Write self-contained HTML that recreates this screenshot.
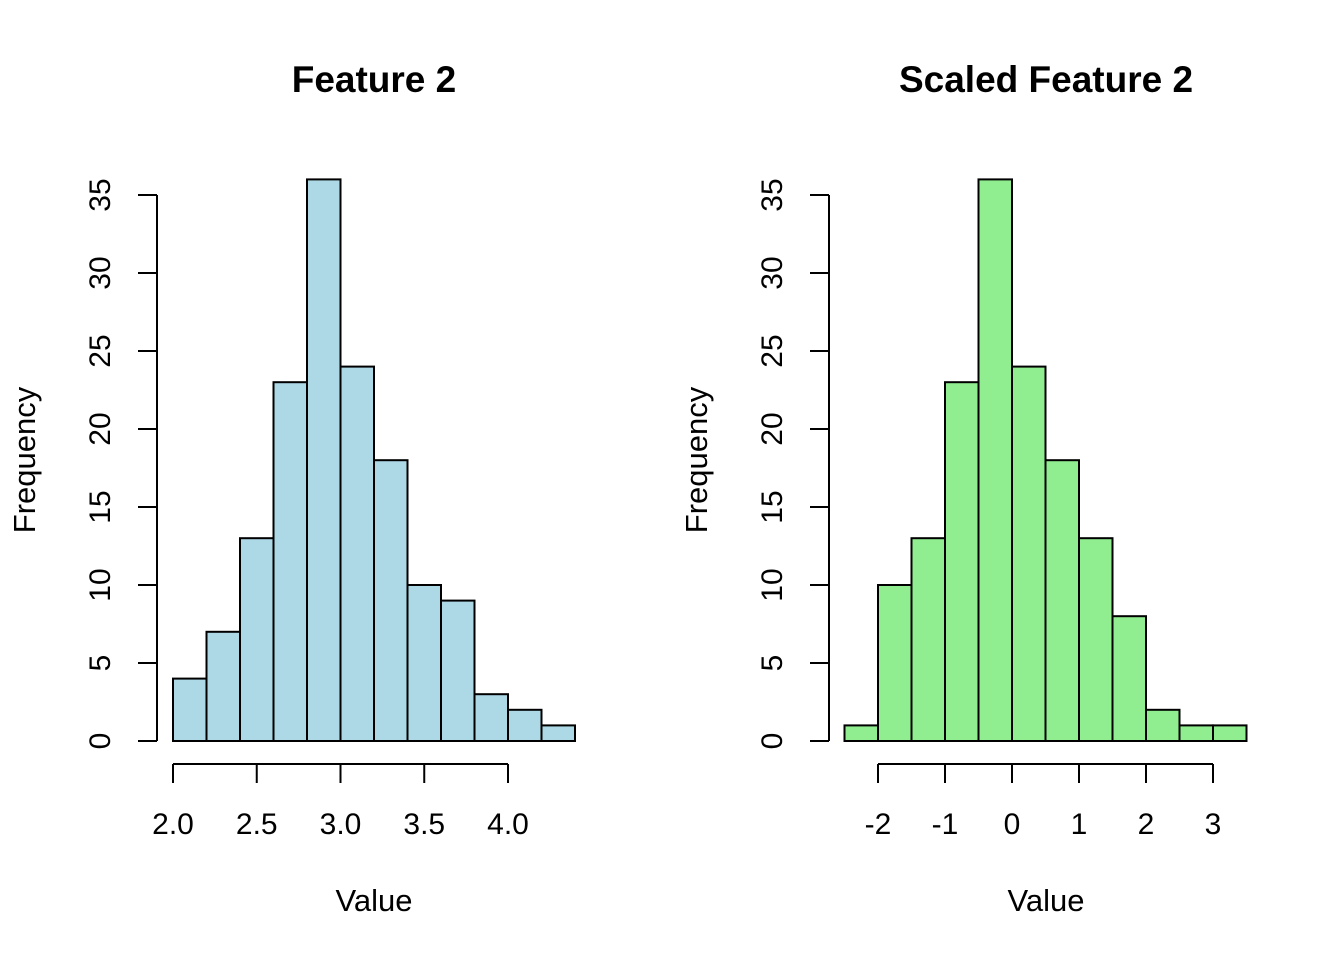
<!DOCTYPE html>
<html><head><meta charset="utf-8"><style>
html,body{margin:0;padding:0;background:#fff}
svg{display:block;font-family:"Liberation Sans",Arial,sans-serif}
</style></head><body>
<svg id="chart" width="1344" height="960" xmlns="http://www.w3.org/2000/svg"></svg>
<script>
const leftCounts=[4,7,13,23,36,24,18,10,9,3,2,1];
const leftStart=2.0;
const leftBinWidth=0.2;
const leftXTicks=[2.0,2.5,3.0,3.5,4.0];
const leftXTickLabels=["2.0","2.5","3.0","3.5","4.0"];
const rightCounts=[1,10,13,23,36,24,18,13,8,2,1,1];
const rightStart=-2.5;
const rightBinWidth=0.5;
const rightXTicks=[-2,-1,0,1,2,3];
const rightXTickLabels=["-2","-1","0","1","2","3"];
const yTicks=[0,5,10,15,20,25,30,35];

const NS="http://www.w3.org/2000/svg";
const svg=document.getElementById('chart');
function mk(tag,attrs,parent){const e=document.createElementNS(NS,tag);for(const k in attrs)e.setAttribute(k,attrs[k]);(parent||svg).appendChild(e);return e;}

function panel(cfg){
  const g=mk('g',{});
  
  
  const sx=v=>cfg.x0+(v-cfg.v0)*cfg.pxPerUnit;
  const sy=v=>741-v*15.6;
  cfg.counts.forEach((c,i)=>{
    const a=cfg.start+i*cfg.bw, b=a+cfg.bw;
    const r=mk('rect',{x:sx(a),y:sy(c),width:sx(b)-sx(a),height:sy(0)-sy(c),fill:cfg.fill,stroke:'#000','stroke-width':2},g);
    
    
  });
  const ya=mk('g',{},g);
  
  
  const yl=cfg.yAxisX;
  mk('line',{x1:yl,x2:yl,y1:sy(yTicks[0]),y2:sy(yTicks[yTicks.length-1]),stroke:'#000','stroke-width':2},ya);
  yTicks.forEach(t=>{
    mk('line',{x1:yl-19,x2:yl,y1:sy(t),y2:sy(t),stroke:'#000','stroke-width':2},ya);
    const tx=mk('text',{x:0,y:0,'font-size':30,'text-anchor':'middle',transform:`translate(${yl-47},${sy(t)}) rotate(-90)`},ya);
    tx.textContent=t;
    
    
  });
  const xa=mk('g',{},g);
  
  
  const xt=cfg.xticks;
  mk('line',{x1:sx(xt[0]),x2:sx(xt[xt.length-1]),y1:764,y2:764,stroke:'#000','stroke-width':2},xa);
  xt.forEach((t,i)=>{
    mk('line',{x1:sx(t),x2:sx(t),y1:764,y2:783,stroke:'#000','stroke-width':2},xa);
    const tx=mk('text',{x:sx(t),y:834,'font-size':30,'text-anchor':'middle'},xa);
    tx.textContent=cfg.xlabels[i];
    
    
  });
  const title=mk('text',{x:cfg.cx,y:92,'font-size':37,'font-weight':'bold','text-anchor':'middle'},g);
  title.textContent=cfg.title;
  
  
  const xt2=mk('text',{x:cfg.cx,y:911,'font-size':31,'text-anchor':'middle'},g);
  xt2.textContent='Value';
  
  
  const yt=mk('text',{x:0,y:0,'font-size':31,'text-anchor':'middle',transform:`translate(${cfg.yTitleX},460) rotate(-90)`},g);
  yt.textContent='Frequency';
  
  
}
panel({name:'left-histogram',counts:leftCounts,start:leftStart,bw:leftBinWidth,xticks:leftXTicks,xlabels:leftXTickLabels,x0:173,v0:2.0,pxPerUnit:167.5,fill:'#add8e6',yAxisX:157,cx:374,title:'Feature 2',yTitleX:35});
panel({name:'right-histogram',counts:rightCounts,start:rightStart,bw:rightBinWidth,xticks:rightXTicks,xlabels:rightXTickLabels,x0:1012,v0:0,pxPerUnit:67,fill:'#90ee90',yAxisX:829,cx:1046,title:'Scaled Feature 2',yTitleX:707});
</script>
</body></html>
